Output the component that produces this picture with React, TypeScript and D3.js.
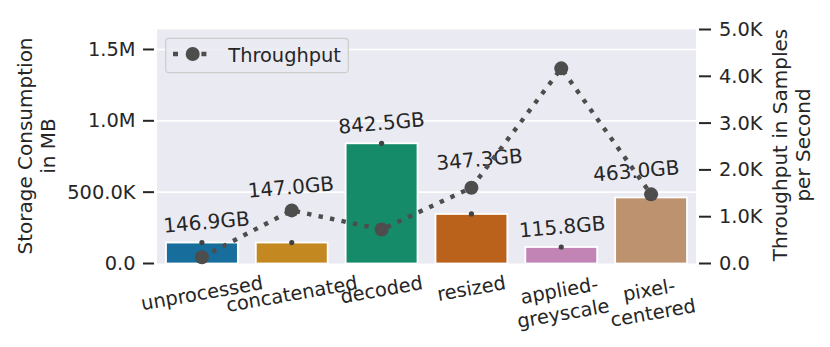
import React, { useEffect, useRef } from "react";
import * as d3 from "d3";

const categories = ["unprocessed", "concatenated", "decoded", "resized", "applied-\ngreyscale", "pixel-\ncentered"];
const storageMB = [146900, 147000, 842500, 347300, 115800, 463000];
const throughput = [135, 1135, 728, 1620, 4170, 1478];
const labelOffsetX = [0.05, -0.01, 0, 0.09, 0.01, -0.165];
const labelValueY = [291000, 536000, 985000, 730000, 258000, 650000];
const palette = ["#0173b2", "#de8f05", "#029e73", "#d55e00", "#cc78bc", "#ca9161"];
const leftTicks = [0, 500000, 1000000, 1500000];
const leftTickLabels = ["0.0", "500.0K", "1.0M", "1.5M"];
const rightTicks = [0, 1000, 2000, 3000, 4000, 5000];
const rightTickLabels = ["0.0", "1.0K", "2.0K", "3.0K", "4.0K", "5.0K"];
const leftMax = 1640000;
const rightMax = 5000;

const W = 830, H = 347;
const L = 157, R = 696, T = 29.5, B = 263.5;
const FONT = "DejaVu Sans";
const TXT = "#262626";
const DARK = "#4d4d4d";

export default function App() {
  const ref = useRef<SVGSVGElement | null>(null);
  useEffect(() => {
    const svg = d3.select(ref.current);
    svg.selectAll("*").remove();
    const x = d3.scaleBand<string>().domain(categories).range([L, R]).paddingInner(0.2).paddingOuter(0.1);
    const yL = d3.scaleLinear().domain([0, leftMax]).range([B, T]);
    const yR = d3.scaleLinear().domain([0, rightMax]).range([B, T]);
    const cx = (i: number) => (x(categories[i]) as number) + x.bandwidth() / 2;

    svg.append("rect").attr("x", L).attr("y", T).attr("width", R - L).attr("height", B - T).attr("fill", "#eaeaf2");
    svg.append("g").selectAll("line").data(leftTicks.slice(1)).join("line")
      .attr("x1", L).attr("x2", R).attr("y1", (d) => yL(d)).attr("y2", (d) => yL(d))
      .attr("stroke", "#ffffff").attr("stroke-width", 1.7);

    // bars
    svg.append("g").selectAll("rect").data(storageMB).join("rect")
      .attr("x", (_, i) => x(categories[i]) as number)
      .attr("y", (d) => yL(d)).attr("width", x.bandwidth()).attr("height", (d) => B - yL(d))
      .attr("fill", (_, i) => { const c = d3.hsl(palette[i]); c.s *= 0.75; return c.formatHex(); })
      .attr("stroke", "#ffffff").attr("stroke-width", 1.8);
    // error dots
    svg.append("g").selectAll("circle").data(storageMB).join("circle")
      .attr("cx", (_, i) => cx(i)).attr("cy", (d) => yL(d)).attr("r", 2.6).attr("fill", "#424242");

    // annotations
    svg.append("g").selectAll("text").data(storageMB).join("text")
      .attr("transform", (_, i) => `translate(${cx(i) + labelOffsetX[i] * x.step()},${yL(labelValueY[i])}) rotate(-5)`)
      .attr("text-anchor", "middle").attr("dominant-baseline", "central")
      .attr("font-family", FONT).attr("font-size", 20).attr("fill", TXT)
      .text((d) => (d / 1000).toFixed(1) + "GB");

    // line
    const line = d3.line<number>().x((_, i) => cx(i)).y((d) => yR(d));
    svg.append("path").datum(throughput).attr("d", line).attr("fill", "none")
      .attr("stroke", DARK).attr("stroke-width", 4.4).attr("stroke-dasharray", "4.4 7.3");
    svg.append("g").selectAll("circle").data(throughput).join("circle")
      .attr("cx", (_, i) => cx(i)).attr("cy", (d) => yR(d)).attr("r", 7).attr("fill", DARK);

    // left axis
    const la = svg.append("g");
    leftTicks.forEach((t, i) => {
      la.append("line").attr("x1", L - 14).attr("x2", L - 3).attr("y1", yL(t)).attr("y2", yL(t))
        .attr("stroke", TXT).attr("stroke-width", 2);
      la.append("text").attr("x", 135.5).attr("y", yL(t)).attr("text-anchor", "end")
        .attr("dominant-baseline", "central").attr("font-family", FONT).attr("font-size", 19.4)
        .attr("fill", TXT).text(leftTickLabels[i]);
    });
    const ra = svg.append("g");
    rightTicks.forEach((t, i) => {
      ra.append("line").attr("x1", R + 3).attr("x2", R + 15).attr("y1", yR(t)).attr("y2", yR(t))
        .attr("stroke", TXT).attr("stroke-width", 2);
      ra.append("text").attr("x", 719).attr("y", yR(t)).attr("text-anchor", "start")
        .attr("dominant-baseline", "central").attr("font-family", FONT).attr("font-size", 19.4)
        .attr("fill", TXT).text(rightTickLabels[i]);
    });

    // axis titles
    const title = (cxp: number, cyp: number, lines: string[]) => {
      const t = svg.append("text").attr("transform", `translate(${cxp},${cyp}) rotate(-90)`)
        .attr("text-anchor", "middle").attr("font-family", FONT).attr("font-size", 20).attr("fill", TXT);
      lines.forEach((s, k) => {
        t.append("tspan").attr("x", 0).attr("y", (k - (lines.length - 1) / 2) * 23.5)
          .attr("dominant-baseline", "central").text(s);
      });
    };
    title(36.5, 146, ["Storage Consumption", "in MB"]);
    title(791.5, 145, ["Throughput in Samples", "per Second"]);

    // x tick labels
    const fs = 19.4, lh = fs * 1.2, ang = 10, rad = (ang * Math.PI) / 180;
    categories.forEach((c, i) => {
      const lines = c.split("\n");
      const g = svg.append("g");
      const t = g.append("text").attr("text-anchor", "middle").attr("font-family", FONT)
        .attr("font-size", fs).attr("fill", TXT);
      lines.forEach((s, k) => {
        t.append("tspan").attr("x", 0).attr("y", (k - (lines.length - 1) / 2) * lh)
          .attr("dominant-baseline", "central").text(s);
      });
      const bw = (t.node() as SVGTextElement).getBBox().width;
      const hb = (lines.length - 1) * lh + fs;
      const hh = bw * Math.sin(rad) + hb * Math.cos(rad);
      g.attr("transform", `translate(${cx(i)},${273 + hh / 2}) rotate(${-ang})`);
    });

    // legend
    const lg = svg.append("g");
    lg.append("rect").attr("x", 165.7).attr("y", 38.3).attr("width", 182.6).attr("height", 34.4)
      .attr("rx", 3.5).attr("fill", "#eaeaf2").attr("fill-opacity", 0.8).attr("stroke", "#cccccc").attr("stroke-width", 1.2);
    lg.append("line").attr("x1", 173).attr("x2", 206.4).attr("y1", 54).attr("y2", 54)
      .attr("stroke", DARK).attr("stroke-width", 4.4).attr("stroke-dasharray", "5 23.4");
    lg.append("circle").attr("cx", 192.7).attr("cy", 54).attr("r", 7).attr("fill", DARK);
    lg.append("text").attr("x", 228.3).attr("y", 61.7).attr("font-family", FONT).attr("font-size", 19.4)
      .attr("fill", TXT).text("Throughput");
  }, []);
  return (
    <svg ref={ref} width={W} height={H} style={{ position: "absolute", left: 0, top: 0, background: "#ffffff" }} />
  );
}
